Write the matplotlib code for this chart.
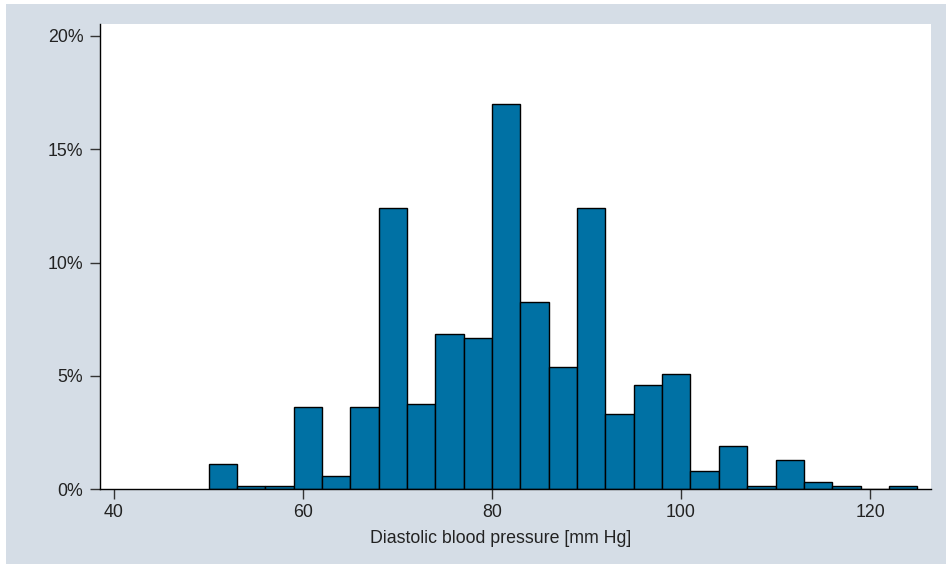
import matplotlib
matplotlib.use("Agg")
import matplotlib.pyplot as plt
from matplotlib.patches import Rectangle
from matplotlib.ticker import PercentFormatter

# histogram bins (mm Hg), width 3 from 50 to 125
bin_width = 3
bin_starts = [50, 53, 56, 59, 62, 65, 68, 71, 74, 77, 80, 83, 86,
              89, 92, 95, 98, 101, 104, 107, 110, 113, 116, 119, 122]
# share of observations per bin (%)
percents = [1.09, 0.13, 0.13, 3.64, 0.58, 3.64, 12.39, 3.77, 6.83, 6.65,
            17.0, 8.24, 5.39, 12.39, 3.31, 4.59, 5.06, 0.78, 1.9, 0.14,
            1.27, 0.33, 0.14, 0.0, 0.14]

x_ticks = [40, 60, 80, 100, 120]
y_ticks = [0, 5, 10, 15, 20]
x_label = "Diastolic blood pressure [mm Hg]"

bg = "#d5dde6"
bar_color = "#0071a4"

plt.rcParams["font.family"] = ["Liberation Sans", "DejaVu Sans"]

W, H = 946, 565
fig = plt.figure(figsize=(W / 100, H / 100), dpi=100, facecolor="white")
fig.patches.append(Rectangle((6 / W, 1 - 564 / H), 1 - 6 / W, (564 - 4) / H,
                             transform=fig.transFigure, facecolor=bg,
                             edgecolor="none", zorder=-10))

ax = fig.add_axes([100 / W, 1 - 489 / H, (931 - 100) / W, (489 - 24) / H])
ax.set_facecolor("white")

ax.bar(bin_starts, percents, width=bin_width, align="edge",
       color=bar_color, edgecolor="black", linewidth=1.0)

ax.set_xlim(40 - 14 / 9.45, 40 + (931 - 114) / 9.45)
ax.set_ylim(0, (489 - 24) / 22.65)

ax.set_xticks(x_ticks)
ax.set_yticks(y_ticks)
ax.yaxis.set_major_formatter(PercentFormatter(decimals=0))

for side in ["top", "right"]:
    ax.spines[side].set_visible(False)
for side in ["left", "bottom"]:
    ax.spines[side].set_linewidth(1.0)
    ax.spines[side].set_color("black")

ax.tick_params(axis="both", direction="out", length=7, width=1.0,
               color="#333333", labelsize=12.8, labelcolor="#222222")
ax.tick_params(axis="y", pad=5)
ax.tick_params(axis="x", pad=4)

ax.set_xlabel(x_label, fontsize=12.8, color="#222222")
ax.xaxis.set_label_coords((501 - 100) / 831, -(530 - 489) / 465)

fig.savefig("out.png", dpi=100, facecolor=fig.get_facecolor())
